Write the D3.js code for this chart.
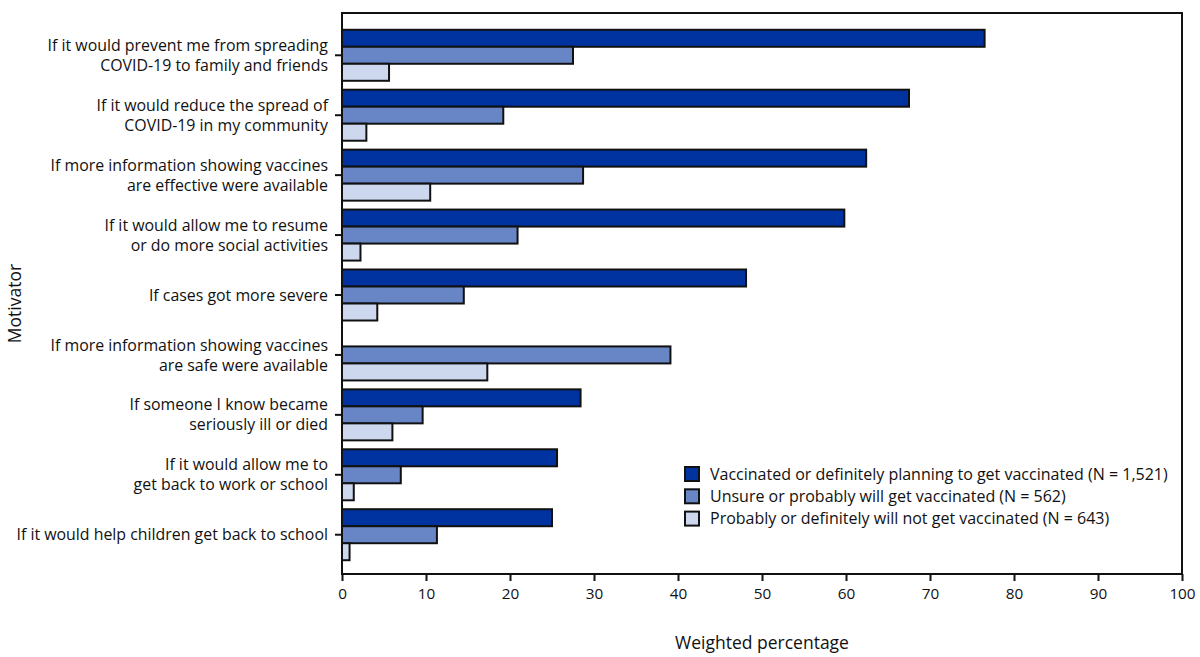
<!DOCTYPE html>
<html lang="en">
<head>
  <meta charset="UTF-8">
  <title>Motivators</title>
  <script src="https://d3js.org/d3.v7.min.js"></script>
  <style>
    body { margin: 0; background: white; font-family: "Open Sans", sans-serif; }
    .axis text { font-family: "Open Sans", sans-serif; font-size: 15.3px; fill: #111; }
    .axis.yaxis text { font-size: 15.9px; }
    .axis line { stroke: #111; stroke-width: 2px; }
    .bar { stroke: #111; stroke-width: 2px; }
    .title { font-size: 17.5px; fill: #111; }
    .legend text { font-size: 16px; fill: #111; }
  </style>
</head>
<body>
<svg id="svg" width="1200" height="657"></svg>
<script>
// categories, each as its label lines
const categories = [
  ["If it would prevent me from spreading", "COVID-19 to family and friends"],
  ["If it would reduce the spread of", "COVID-19 in my community"],
  ["If more information showing vaccines", "are effective were available"],
  ["If it would allow me to resume", "or do more social activities"],
  ["If cases got more severe"],
  ["If more information showing vaccines", "are safe were available"],
  ["If someone I know became", "seriously ill or died"],
  ["If it would allow me to", "get back to work or school"],
  ["If it would help children get back to school"]
];
const seriesNames = [
  "Vaccinated or definitely planning to get vaccinated (N = 1,521)",
  "Unsure or probably will get vaccinated (N = 562)",
  "Probably or definitely will not get vaccinated (N = 643)"
];
const vaccinated = [76.5, 67.5, 62.4, 59.8, 48.1, null, 28.4, 25.6, 25.0];
const unsure     = [27.5, 19.2, 28.7, 20.9, 14.5, 39.1, 9.6, 7.0, 11.3];
const notVacc    = [5.6, 2.9, 10.5, 2.2, 4.2, 17.3, 6.0, 1.4, 0.9];
const xTicks = [0, 10, 20, 30, 40, 50, 60, 70, 80, 90, 100];
const colors = ["#00339f", "#6885c6", "#cdd7ee"];

const series = [vaccinated, unsure, notVacc];
const catKeys = categories.map((c, i) => i);

const plot = {left: 342, right: 1182, top: 13, bottom: 574};
const svg = d3.select("#svg");

const x = d3.scaleLinear().domain([0, 100]).range([plot.left, plot.right]);
const y = d3.scaleBand().domain(catKeys).range([plot.top + 1.5, plot.bottom + 1.5])
  .paddingInner(0.149).paddingOuter(0.255);
const ySub = d3.scaleBand().domain([0, 1, 2]).range([0, y.bandwidth()]);

// bars
const rows = [];
catKeys.forEach(i => {
  series.forEach((s, k) => {
    if (s[i] != null) rows.push({cat: i, s: k, v: s[i]});
  });
});

svg.append("g").selectAll("rect")
  .data(rows)
  .join("rect")
  .attr("class", "bar")
  .attr("x", x(0))
  .attr("y", d => y(d.cat) + ySub(d.s))
  .attr("width", d => x(d.v) - x(0))
  .attr("height", ySub.bandwidth())
  .attr("fill", d => colors[d.s]);

// frame
svg.append("rect")
  .attr("x", plot.left).attr("y", plot.top)
  .attr("width", plot.right - plot.left).attr("height", plot.bottom - plot.top)
  .attr("fill", "none").attr("stroke", "#111").attr("stroke-width", 2);

// x axis
const xAxis = svg.append("g").attr("class", "axis")
  .attr("transform", `translate(0,${plot.bottom})`)
  .call(d3.axisBottom(x).tickValues(xTicks).tickSize(7).tickPadding(7));
xAxis.select(".domain").remove();

// y axis
const yAxis = svg.append("g").attr("class", "axis yaxis")
  .attr("transform", `translate(${plot.left},0)`)
  .call(d3.axisLeft(y).tickSize(7).tickPadding(8).tickFormat(""));
yAxis.select(".domain").remove();
const lineGap = 20;
yAxis.selectAll(".tick text").each(function(d) {
  const lines = categories[d];
  const t = d3.select(this).attr("dy", null);
  lines.forEach((ln, j) => {
    t.append("tspan")
      .attr("x", -14)
      .attr("y", (j - (lines.length - 1) / 2) * lineGap)
      .attr("dy", "0.35em")
      .text(ln);
  });
});

// titles
svg.append("text").attr("class", "title")
  .attr("x", (plot.left + plot.right) / 2).attr("y", 649)
  .attr("text-anchor", "middle")
  .text("Weighted percentage");
svg.append("text").attr("class", "title")
  .attr("transform", `translate(21,${(plot.top + plot.bottom) / 2 + 10}) rotate(-90)`)
  .attr("text-anchor", "middle")
  .text("Motivator");

// legend
const legend = svg.append("g").attr("class", "legend")
  .attr("transform", "translate(685,467)");
const items = legend.selectAll("g")
  .data(seriesNames)
  .join("g")
  .attr("transform", (d, i) => `translate(0,${i * 22.3})`);
items.append("rect")
  .attr("width", 14).attr("height", 14)
  .attr("fill", (d, i) => colors[i])
  .attr("stroke", "#111").attr("stroke-width", 2);
items.append("text")
  .attr("x", 25).attr("y", 7).attr("dy", "0.35em")
  .text(d => d);
</script>
</body>
</html>
